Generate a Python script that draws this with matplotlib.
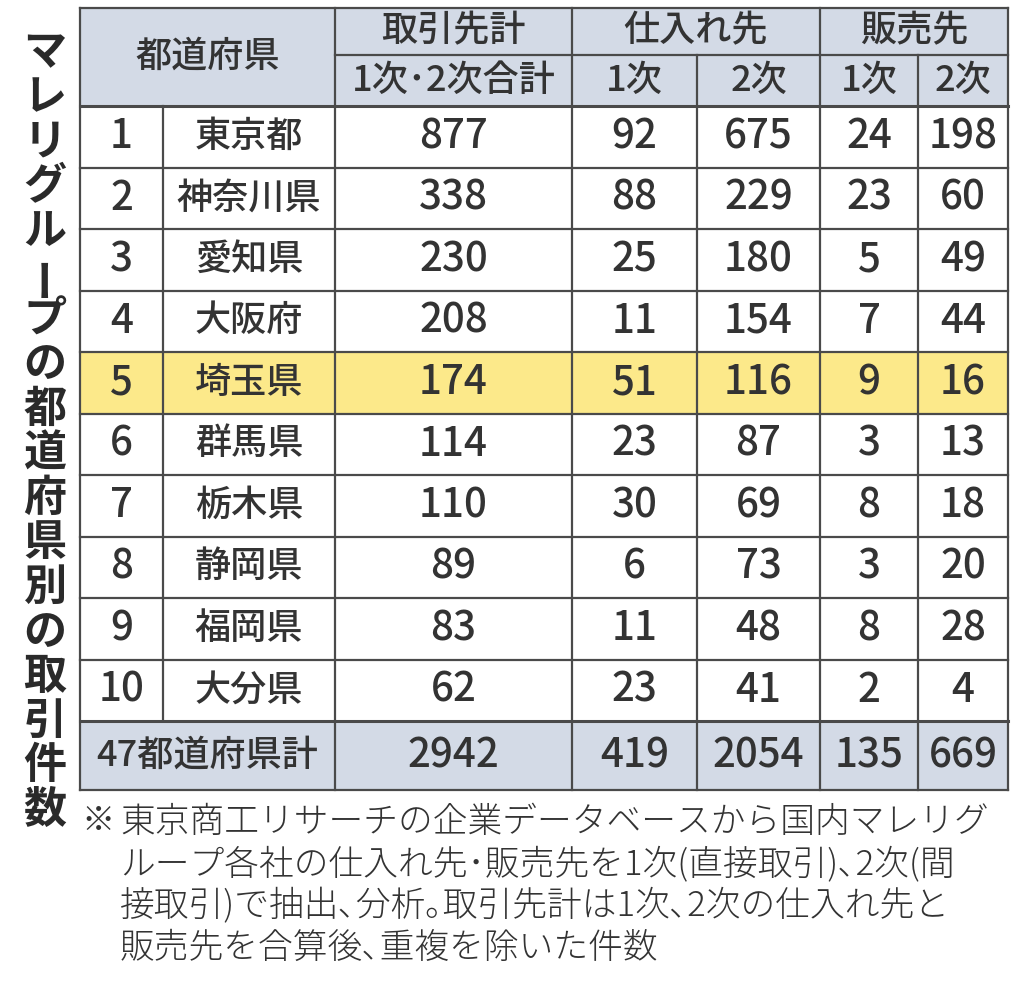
import matplotlib
matplotlib.use("Agg")
import matplotlib.pyplot as plt
from matplotlib.patches import Rectangle

plt.rcParams['font.family'] = ['Noto Sans CJK JP', 'DejaVu Sans']

ranks = ['1', '2', '3', '4', '5', '6', '7', '8', '9', '10']
prefs = ['東京都', '神奈川県', '愛知県', '大阪府', '埼玉県', '群馬県', '栃木県', '静岡県', '福岡県', '大分県']
total = [877, 338, 230, 208, 174, 114, 110, 89, 83, 62]
sup1 = [92, 88, 25, 11, 51, 23, 30, 6, 11, 23]
sup2 = [675, 229, 180, 154, 116, 87, 69, 73, 48, 41]
sal1 = [24, 23, 5, 7, 9, 3, 8, 3, 8, 2]
sal2 = [198, 60, 49, 44, 16, 13, 18, 20, 28, 4]
sum_label = '47都道府県計'
sums = [2942, 419, 2054, 135, 669]
highlight = '埼玉県'
title = 'マレリグループの都道府県別の取引件数'
note = ['※', '東京商工リサーチの企業データベースから国内マレリグ',
        'ループ各社の仕入れ先･販売先を1次(直接取引)､2次(間',
        '接取引)で抽出､分析｡取引先計は1次､2次の仕入れ先と',
        '販売先を合算後､重複を除いた件数']

fig = plt.figure(figsize=(10.24, 9.81), dpi=100)
ax = fig.add_axes([0, 0, 1, 1])
ax.set_xlim(0, 1024); ax.set_ylim(981, 0); ax.axis('off')

# column edges and row edges in pixels
xs = [80, 163, 335, 572, 697, 820, 918, 1008]
y_top, y_mid, y_head = 8, 55, 106
row_h = (721 - y_head) / len(prefs)
y_sum_bot = 790
hdr = '#d3dae6'
yel = '#fce98a'
lc = '#4a4a4a'
tc = '#333333'
fs = 26

ax.add_patch(Rectangle((xs[0], y_top), xs[-1] - xs[0], y_head - y_top, fc=hdr, ec='none'))
ax.add_patch(Rectangle((xs[0], 721), xs[-1] - xs[0], y_sum_bot - 721, fc=hdr, ec='none'))
hi = prefs.index(highlight)
ax.add_patch(Rectangle((xs[0], y_head + hi * row_h), xs[-1] - xs[0], row_h, fc=yel, ec='none'))

def txt(x, y, s, size=fs, **kw):
    ax.text(x, y, s, ha='center', va='center', fontsize=size, color=tc, weight='medium', **kw)

# header
txt((xs[0] + xs[2]) / 2, (y_top + y_head) / 2, '都道府県')
txt((xs[2] + xs[3]) / 2, (y_top + y_mid) / 2, '取引先計')
txt((xs[3] + xs[5]) / 2, (y_top + y_mid) / 2, '仕入れ先')
txt((xs[5] + xs[7]) / 2, (y_top + y_mid) / 2, '販売先')
txt((xs[2] + xs[3]) / 2, (y_mid + y_head) / 2, '1次･2次合計')
for i, s in zip(range(3, 7), ['1次', '2次', '1次', '2次']):
    txt((xs[i] + xs[i + 1]) / 2, (y_mid + y_head) / 2, s)

# body
for r in range(len(prefs)):
    yc = y_head + (r + 0.5) * row_h
    vals = [ranks[r], prefs[r], total[r], sup1[r], sup2[r], sal1[r], sal2[r]]
    for c, v in enumerate(vals):
        txt((xs[c] + xs[c + 1]) / 2, yc, str(v), size=fs if c == 1 else fs + 3)
ys = (721 + y_sum_bot) / 2
txt((xs[0] + xs[2]) / 2, ys, sum_label)
for c, v in enumerate(sums):
    txt((xs[c + 2] + xs[c + 3]) / 2, ys, str(v), size=fs + 3)

# grid lines
kw = dict(color=lc, lw=1.6)
ax.plot([xs[0], xs[-1]], [y_top, y_top], **kw)
ax.plot([xs[2], xs[-1]], [y_mid, y_mid], **kw)
ax.plot([xs[0], xs[-1]], [y_head, y_head], color=lc, lw=2.2)
for r in range(1, len(prefs)):
    y = y_head + r * row_h
    ax.plot([xs[0], xs[-1]], [y, y], **kw)
ax.plot([xs[0], xs[-1]], [721, 721], color=lc, lw=2.2)
ax.plot([xs[0], xs[-1]], [y_sum_bot, y_sum_bot], **kw)
for i, x in enumerate(xs):
    if i == 1:
        ax.plot([x, x], [y_head, 721], **kw)
    elif i in (4, 6):
        ax.plot([x, x], [y_mid, y_sum_bot], **kw)
    else:
        ax.plot([x, x], [y_top, y_sum_bot], **kw)

# vertical title
n = len(title)
step = (832 - 30) / n
for i, ch in enumerate(title):
    y = 30 + (i + 0.5) * step
    ax.text(45, y, ch, ha='center', va='center', fontsize=31, weight='bold',
            color='#2a2a2a', rotation=90 if ch == 'ー' else 0)

# footnote
ax.text(98, 822, note[0], ha='center', va='center', fontsize=24, color=tc)
for i, line in enumerate(note[1:]):
    ax.text(120, 822 + i * 42, line, ha='left', va='center', fontsize=25,
            color=tc, weight='light')

fig.savefig('out.png', dpi=100)
